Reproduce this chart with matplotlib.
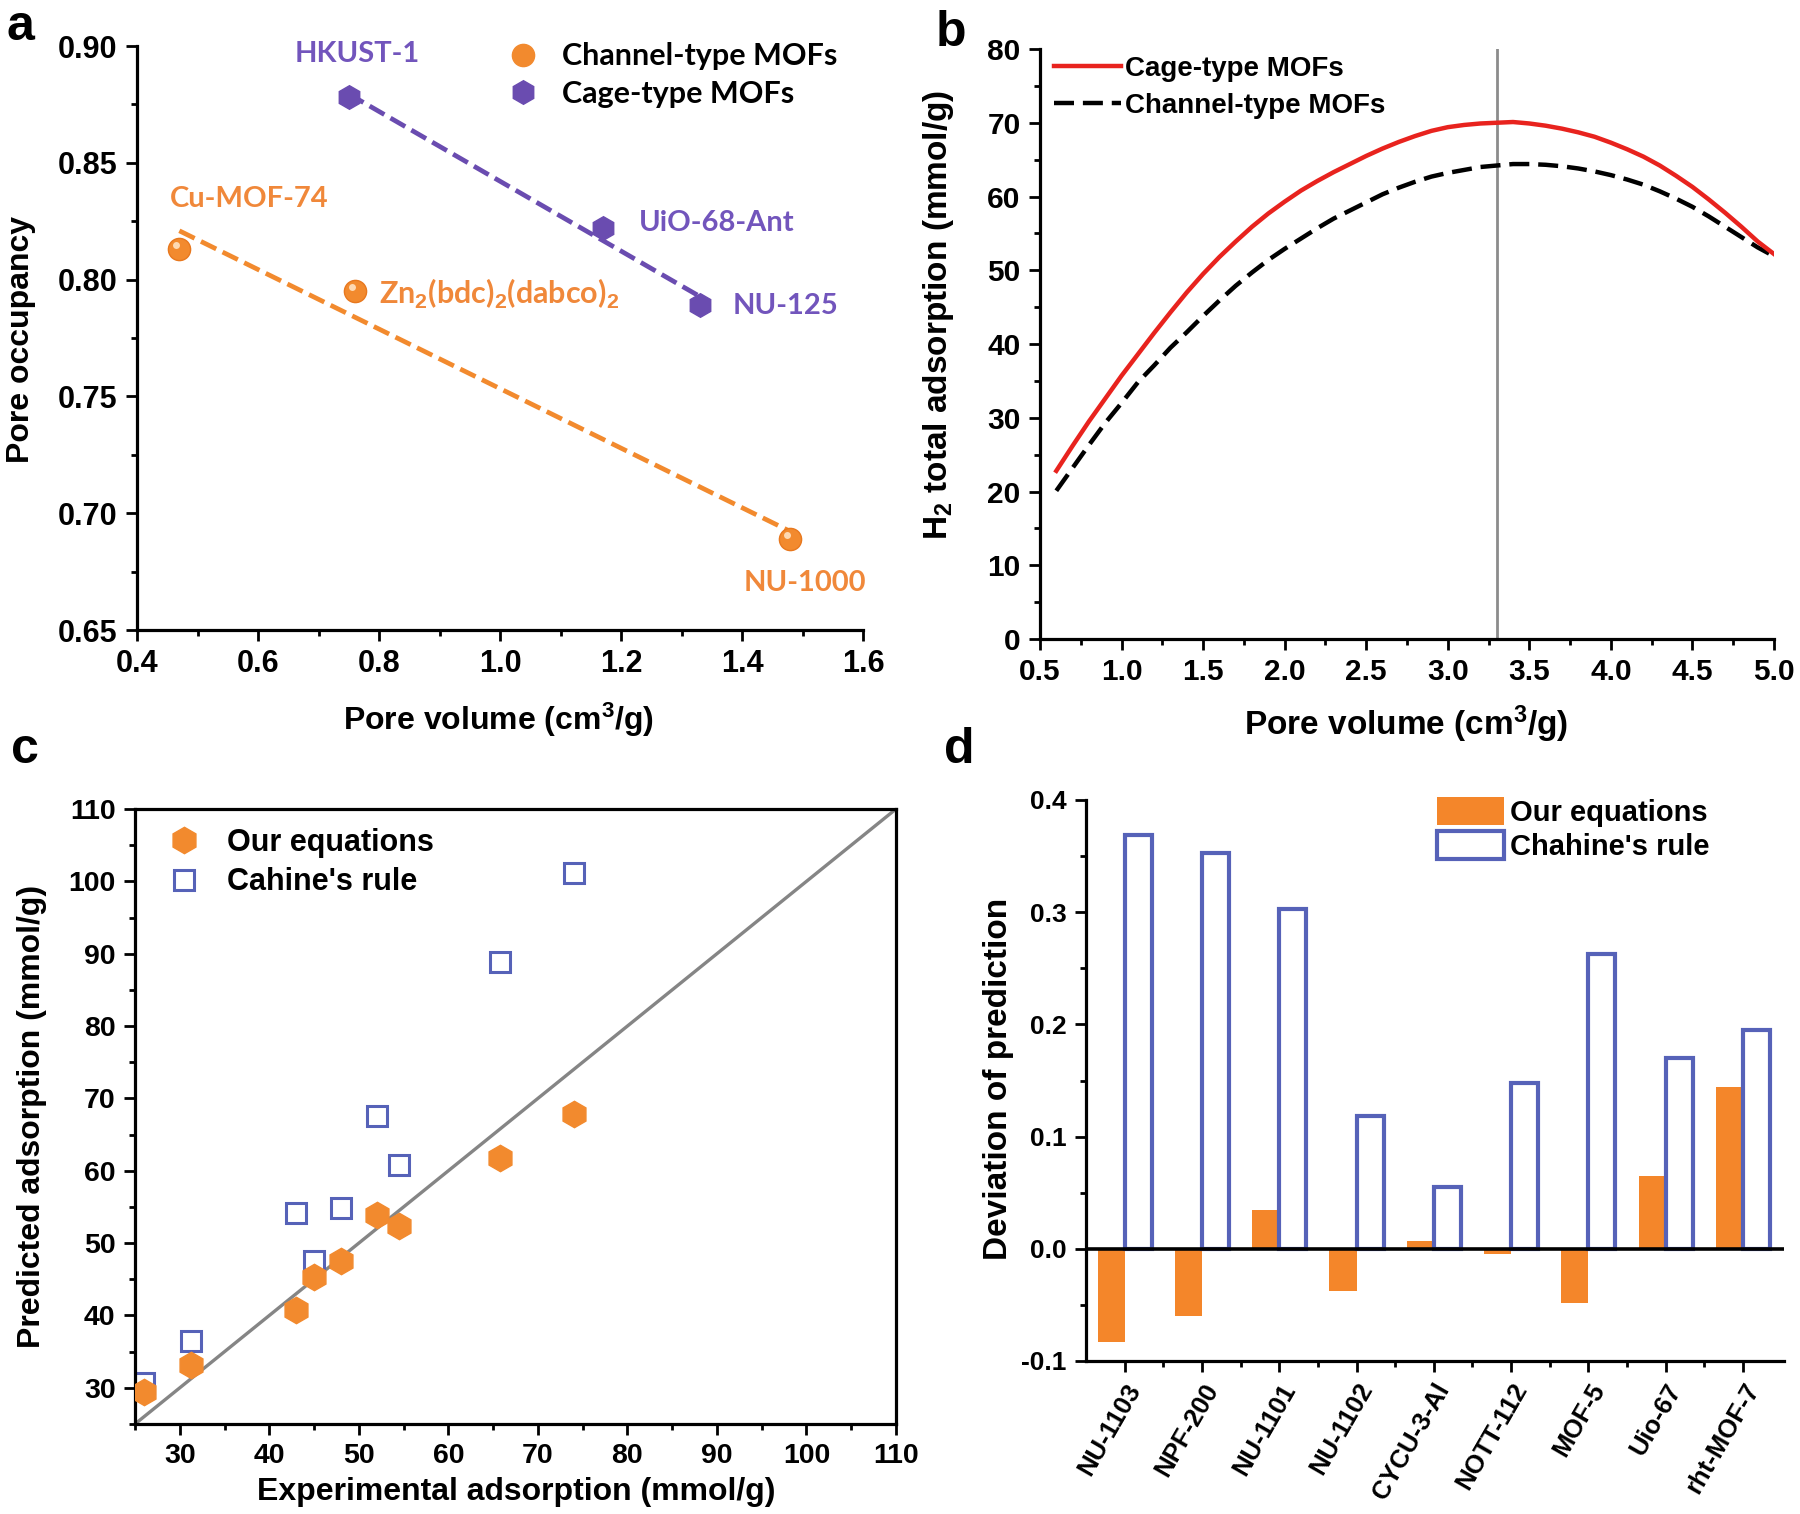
import numpy as np
import matplotlib
matplotlib.use('Agg')
import matplotlib.pyplot as plt
from matplotlib.lines import Line2D
from matplotlib.ticker import MultipleLocator
import matplotlib.transforms as mtransforms

plt.rcParams['font.family'] = ['Liberation Sans', 'DejaVu Sans']
plt.rcParams['font.weight'] = 'bold'
plt.rcParams['axes.labelweight'] = 'bold'
plt.rcParams['axes.unicode_minus'] = False
plt.rcParams['mathtext.fontset'] = 'custom'
plt.rcParams['mathtext.rm'] = 'Liberation Sans:bold'
plt.rcParams['mathtext.it'] = 'Liberation Sans:bold:italic'
plt.rcParams['mathtext.bf'] = 'Liberation Sans:bold'

# ---------------- data ----------------
# panel a
chan_names = ['Cu-MOF-74', 'Zn$_2$(bdc)$_2$(dabco)$_2$', 'NU-1000']
chan_pv = [0.47, 0.76, 1.48]
chan_occ = [0.813, 0.795, 0.689]
cage_names = ['HKUST-1', 'UiO-68-Ant', 'NU-125']
cage_pv = [0.75, 1.17, 1.33]
cage_occ = [0.878, 0.822, 0.789]

# panel b
pv_grid = [0.6, 0.7, 0.8, 0.9, 1.0, 1.1, 1.2, 1.3, 1.4, 1.5, 1.6, 1.7, 1.8, 1.9,
           2.0, 2.1, 2.2, 2.3, 2.4, 2.5, 2.6, 2.7, 2.8, 2.9, 3.0, 3.1, 3.2, 3.3,
           3.4, 3.5, 3.6, 3.7, 3.8, 3.9, 4.0, 4.1, 4.2, 4.3, 4.4, 4.5, 4.6, 4.7,
           4.8, 4.9, 5.0]
cage_ads = [22.8, 26.2, 29.5, 32.6, 35.7, 38.6, 41.5, 44.3, 47.0, 49.5, 51.8, 53.9,
            55.9, 57.7, 59.3, 60.8, 62.1, 63.3, 64.4, 65.5, 66.5, 67.4, 68.2, 68.9,
            69.4, 69.7, 69.9, 70.0, 70.1, 69.9, 69.6, 69.2, 68.7, 68.1, 67.3, 66.4,
            65.4, 64.2, 62.8, 61.3, 59.6, 57.8, 55.9, 53.9, 52.2]
chan_ads = [20.1, 23.2, 26.3, 29.3, 32.0, 34.8, 37.1, 39.5, 41.6, 43.8, 45.9, 47.9,
            49.7, 51.4, 52.9, 54.3, 55.7, 57.0, 58.1, 59.2, 60.3, 61.2, 62.0, 62.7,
            63.2, 63.6, 64.0, 64.2, 64.4, 64.4, 64.3, 64.1, 63.8, 63.4, 62.9, 62.3,
            61.6, 60.7, 59.7, 58.6, 57.3, 55.9, 54.5, 53.1, 51.9]
peak_pv = 3.3

# panel c
exp_ads = [26.0, 31.2, 43.0, 45.0, 48.0, 52.0, 54.5, 65.8, 74.0]
our_pred = [29.4, 33.1, 40.8, 45.3, 47.5, 53.9, 52.3, 61.8, 67.8]
chahine_pred = [30.7, 36.5, 54.2, 47.5, 54.8, 67.6, 60.8, 88.9, 101.2]

# panel d
mofs = ['NU-1103', 'NPF-200', 'NU-1101', 'NU-1102', 'CYCU-3-Al', 'NOTT-112',
        'MOF-5', 'Uio-67', 'rht-MOF-7']
dev_our = [-0.083, -0.060, 0.035, -0.038, 0.007, -0.005, -0.048, 0.065, 0.144]
dev_chahine = [0.369, 0.353, 0.303, 0.118, 0.055, 0.148, 0.263, 0.170, 0.195]

# ---------------- style ----------------
ORANGE = '#F28A2E'
ORANGE_TXT = '#F0883A'
PURPLE = '#6A4CB0'
PURPLE_TXT = '#7255BC'
BLUE = '#5662B8'
RED = '#E8231E'
BAR_OR = '#F4862A'
CAL = ['Lato', 'DejaVu Sans']

W, H = 1800, 1514
fig = plt.figure(figsize=(18, 15.14), dpi=100)


def frac(l, t, r, b):
    return [l / W, 1 - b / H, (r - l) / W, (b - t) / H]


def style_axes(ax, fs, box=False, pad=4):
    for s in ['left', 'bottom', 'top', 'right']:
        ax.spines[s].set_linewidth(2.3)
    if not box:
        ax.spines['top'].set_visible(False)
        ax.spines['right'].set_visible(False)
    ax.tick_params(which='major', direction='out', length=8, width=2.0,
                   labelsize=fs, top=False, right=False, pad=pad)
    ax.tick_params(which='minor', direction='out', length=4.5, width=2.0,
                   top=False, right=False)
    for lab in ax.get_xticklabels() + ax.get_yticklabels():
        lab.set_fontweight('bold')


# ---------------- panel a ----------------
axa = fig.add_axes(frac(137, 46, 863, 630))
fa = np.polyfit(chan_pv, chan_occ, 1)
xa = np.array([min(chan_pv), max(chan_pv)])
axa.plot(xa, np.polyval(fa, xa), color=ORANGE, lw=3.4, dashes=(3.6, 1.5), zorder=2)
fc = np.polyfit(cage_pv, cage_occ, 1)
xc = np.array([min(cage_pv), max(cage_pv)])
axa.plot(xc, np.polyval(fc, xc), color=PURPLE, lw=3.4, dashes=(3.6, 1.5), zorder=2)
axa.plot(chan_pv, chan_occ, 'o', ms=16, color=ORANGE, mec='#E8781E', mew=1, zorder=3)
hl = mtransforms.offset_copy(axa.transData, fig=fig, x=-3, y=4, units='dots')
axa.plot(chan_pv, chan_occ, 'o', ms=5, color='#FFE3C2', mec='none', alpha=0.9,
         transform=hl, zorder=4)
axa.plot(cage_pv, cage_occ, 'h', ms=17, color=PURPLE, zorder=3)

label_pos_a = {
    'HKUST-1': (0.661, 0.8966, 'left'),
    'Cu-MOF-74': (0.455, 0.8345, 'left'),
    'Zn$_2$(bdc)$_2$(dabco)$_2$': (0.80, 0.7938, 'left'),
    'UiO-68-Ant': (1.23, 0.8242, 'left'),
    'NU-125': (1.385, 0.7885, 'left'),
    'NU-1000': (1.403, 0.6701, 'left'),
}
for n in chan_names + cage_names:
    x, y, ha = label_pos_a[n]
    col = ORANGE_TXT if n in chan_names else PURPLE_TXT
    fs = 22 if n.startswith('Zn') else 21
    axa.text(x, y, n, color=col, fontsize=fs, fontweight='bold', family=CAL,
             ha=ha, va='center')

axa.set_xlim(0.4, 1.6)
axa.set_ylim(0.65, 0.90)
axa.xaxis.set_major_locator(MultipleLocator(0.2))
axa.xaxis.set_minor_locator(MultipleLocator(0.1))
axa.yaxis.set_major_locator(MultipleLocator(0.05))
axa.yaxis.set_minor_locator(MultipleLocator(0.025))
axa.set_yticklabels([f'{v:.2f}' for v in axa.get_yticks()])
style_axes(axa, 22, pad=6)
axa.set_xlabel('Pore volume (cm$^3$/g)', fontsize=23, fontweight='bold')
axa.set_ylabel('Pore occupancy', fontsize=23, fontweight='bold')
axa.xaxis.set_label_coords(0.498, -0.154)
axa.yaxis.set_label_coords(-0.160, 0.498)
axa.xaxis.label.set_va('center')
axa.yaxis.label.set_va('center')
ha1 = Line2D([], [], marker='o', ls='none', ms=16, color=ORANGE)
ha2 = Line2D([], [], marker='h', ls='none', ms=17, color=PURPLE)
axa.legend([ha1, ha2], ['Channel-type MOFs', 'Cage-type MOFs'],
           loc='upper left', bbox_to_anchor=(0.510, 1.006), frameon=False,
           borderpad=0, borderaxespad=0, handlelength=1.0, handletextpad=0.8,
           labelspacing=0.3, prop={'family': CAL, 'weight': 'bold', 'size': 22})

# ---------------- panel b ----------------
axb = fig.add_axes(frac(1040, 49, 1774, 639))
axb.axvline(peak_pv, color='#8C8C8C', lw=2.0, zorder=1)
axb.plot(pv_grid, cage_ads, color=RED, lw=3.2, label='Cage-type MOFs', zorder=3)
axb.plot(pv_grid, chan_ads, color='black', lw=3.2, dashes=(4.5, 2.0),
         label='Channel-type MOFs', zorder=2)
axb.set_xlim(0.5, 5.0)
axb.set_ylim(0, 80)
axb.xaxis.set_major_locator(MultipleLocator(0.5))
axb.xaxis.set_minor_locator(MultipleLocator(0.25))
axb.yaxis.set_major_locator(MultipleLocator(10))
axb.yaxis.set_minor_locator(MultipleLocator(5))
style_axes(axb, 21.5, pad=6)
axb.set_xlabel('Pore volume (cm$^3$/g)', fontsize=24, fontweight='bold')
axb.set_ylabel('H$_2$ total adsorption (mmol/g)', fontsize=24, fontweight='bold')
axb.xaxis.set_label_coords(0.499, -0.144)
axb.yaxis.set_label_coords(-0.138, 0.55)
axb.xaxis.label.set_va('center')
axb.yaxis.label.set_va('center')
axb.legend(loc='upper left', bbox_to_anchor=(0.019, 0.988), frameon=False,
           borderpad=0, borderaxespad=0, handlelength=2.4, handletextpad=0.15,
           labelspacing=0.4, prop={'weight': 'bold', 'size': 20})

# ---------------- panel c ----------------
axc = fig.add_axes(frac(135, 809, 896, 1424))
axc.axline((0, 0), slope=1, color='#858585', lw=2.4, zorder=1)
axc.plot(exp_ads, chahine_pred, 's', ms=14, mfc='none', mec=BLUE, mew=2.2,
         label="Cahine's rule", zorder=2)
axc.plot(exp_ads, our_pred, 'h', ms=19, color=ORANGE, label='Our equations', zorder=3)
axc.set_xlim(25, 110)
axc.set_ylim(25, 110)
axc.xaxis.set_minor_locator(MultipleLocator(5))
axc.yaxis.set_minor_locator(MultipleLocator(5))
axc.set_xticks(np.arange(30, 111, 10))
axc.set_yticks(np.arange(30, 111, 10))
style_axes(axc, 20.5, box=True, pad=6)
axc.set_xlabel('Experimental adsorption (mmol/g)', fontsize=23, fontweight='bold')
axc.set_ylabel('Predicted adsorption (mmol/g)', fontsize=23, fontweight='bold')
axc.xaxis.set_label_coords(0.501, -0.111)
axc.yaxis.set_label_coords(-0.135, 0.50)
axc.xaxis.label.set_va('center')
axc.yaxis.label.set_va('center')
hc, lc = axc.get_legend_handles_labels()
axc.legend(hc[::-1], lc[::-1], loc='upper left', bbox_to_anchor=(0.040, 0.969),
           frameon=False, borderpad=0, borderaxespad=0, handlelength=1.2,
           handletextpad=0.8, labelspacing=0.3, prop={'weight': 'bold', 'size': 22})

# ---------------- panel d ----------------
axd = fig.add_axes(frac(1086, 800, 1784, 1361))
pos = np.arange(len(mofs))
bw = 0.35
axd.bar(pos - bw / 2, dev_our, width=bw, color=BAR_OR, edgecolor='none',
        label='Our equations', zorder=2)
axd.bar(pos + bw / 2, dev_chahine, width=bw, facecolor='white', edgecolor=BLUE,
        linewidth=3.0, label="Chahine's rule", zorder=2)
axd.axhline(0, color='black', lw=2.6, zorder=3)
axd.set_xlim(-0.5, 8.53)
axd.set_ylim(-0.1, 0.4)
axd.set_xticks(pos)
axd.set_xticks(pos[:-1] + 0.5, minor=True)
axd.yaxis.set_major_locator(MultipleLocator(0.1))
axd.yaxis.set_minor_locator(MultipleLocator(0.05))
style_axes(axd, 19, pad=6)
axd.set_xticklabels(mofs, rotation=60, ha='right', rotation_mode='anchor',
                    fontsize=18.5, fontweight='bold')
axd.tick_params(axis='x', which='major', pad=5)
axd.set_ylabel('Deviation of prediction', fontsize=24, fontweight='bold')
axd.yaxis.set_label_coords(-0.125, 0.503)
axd.yaxis.label.set_va('center')
axd.legend(loc='upper left', bbox_to_anchor=(0.503, 1.006), frameon=False,
           borderpad=0, borderaxespad=0, handlelength=2.3, handleheight=1.1,
           handletextpad=0.2, labelspacing=0.15, prop={'weight': 'bold', 'size': 21})

# ---------------- panel letters ----------------
for letter, x, yb in [('a', 6, 40), ('b', 936, 46), ('c', 11, 763), ('d', 944, 763)]:
    fig.text(x / W, 1 - yb / H, letter, fontsize=36, fontweight='bold',
             ha='left', va='baseline')

fig.savefig('out.png', dpi=100)
